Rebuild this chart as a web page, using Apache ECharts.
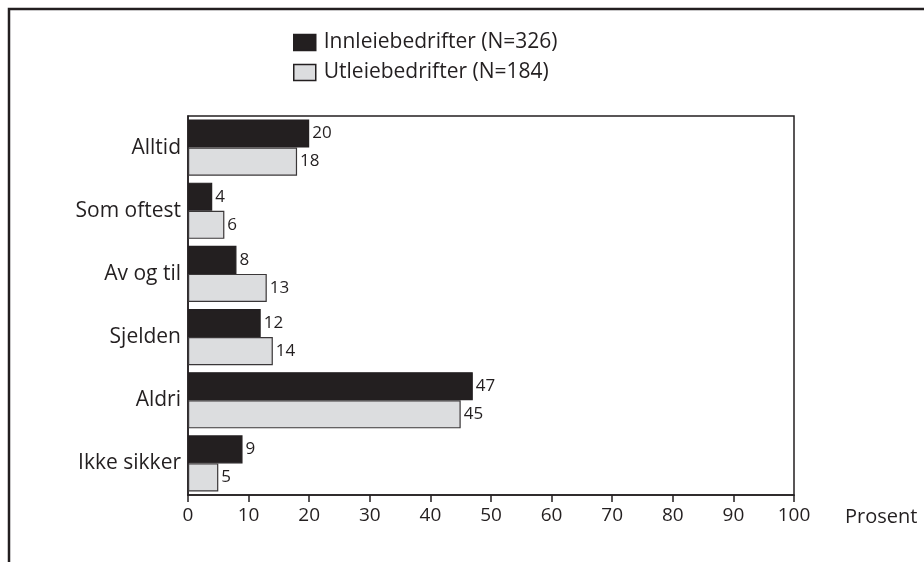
<!DOCTYPE html>
<html>
<head>
<meta charset="utf-8">
<style>
  html, body { margin: 0; padding: 0; background: #fff; }
  #chart { width: 924px; height: 562px; }
</style>
<script src="https://cdn.jsdelivr.net/npm/echarts@6/dist/echarts.min.js"></script>
</head>
<body>
<div id="chart"></div>
<script>
// Response categories, top to bottom
const categories = ['Alltid', 'Som oftest', 'Av og til', 'Sjelden', 'Aldri', 'Ikke sikker'];
// Percent values per group
const innleie = [20, 4, 8, 12, 47, 9];
const utleie = [18, 6, 13, 14, 45, 5];
const seriesNames = ['Innleiebedrifter (N=326)', 'Utleiebedrifter (N=184)'];
const xTicks = [0, 10, 20, 30, 40, 50, 60, 70, 80, 90, 100];

const FONT = '"Open Sans", "Noto Sans", sans-serif';
const INK = '#231f20';
const GREY = '#dcdddf';

const chart = echarts.init(document.getElementById('chart'), null, { renderer: 'canvas' });

const labelStyle = {
  show: true,
  position: 'right',
  distance: 3,
  color: INK,
  fontFamily: FONT,
  fontSize: 17
};

chart.setOption({
  animation: false,
  backgroundColor: '#ffffff',
  textStyle: { fontFamily: FONT },
  graphic: [{
    type: 'polyline',
    shape: { points: [[9, 562], [9, 9], [924, 9]] },
    style: { stroke: INK, lineWidth: 2.5, fill: null },
    silent: true
  }],
  legend: {
    orient: 'vertical',
    left: 293,
    top: 32,
    padding: 0,
    itemWidth: 22,
    itemHeight: 16,
    itemGap: 9,
    icon: 'rect',
    textStyle: { fontFamily: FONT, fontSize: 21, color: INK, padding: [0, 0, 0, 3] },
    data: [
      { name: seriesNames[0], itemStyle: { color: INK, borderColor: INK, borderWidth: 1.5 } },
      { name: seriesNames[1], itemStyle: { color: GREY, borderColor: INK, borderWidth: 1.5 } }
    ]
  },
  grid: {
    left: 188,
    right: 130,
    top: 116,
    bottom: 67,
    show: true,
    borderColor: INK,
    borderWidth: 1.5,
    containLabel: false
  },
  xAxis: {
    type: 'value',
    min: xTicks[0],
    max: xTicks[xTicks.length - 1],
    interval: 10,
    name: 'Prosent',
    nameLocation: 'end',
    nameGap: 51,
    nameTextStyle: { fontFamily: FONT, fontSize: 20, color: INK, verticalAlign: 'top', padding: [12, 0, 0, 0] },
    axisLine: { show: true, lineStyle: { color: INK, width: 1.5 } },
    axisTick: { show: true, length: 7, inside: false, lineStyle: { color: INK, width: 1.5 } },
    axisLabel: { color: INK, fontFamily: FONT, fontSize: 19, margin: 11 },
    splitLine: { show: false }
  },
  yAxis: {
    type: 'category',
    inverse: true,
    data: categories,
    axisLine: { show: true, lineStyle: { color: INK, width: 1.5 } },
    axisTick: { show: false },
    axisLabel: { color: INK, fontFamily: FONT, fontSize: 21, margin: 7 }
  },
  series: [
    {
      name: seriesNames[0],
      type: 'bar',
      data: innleie,
      barGap: '0%',
      barCategoryGap: '11%',
      itemStyle: { color: INK, borderColor: INK, borderWidth: 1.2 },
      label: labelStyle
    },
    {
      name: seriesNames[1],
      type: 'bar',
      data: utleie,
      itemStyle: { color: GREY, borderColor: '#3a3738', borderWidth: 1.2 },
      label: labelStyle
    }
  ]
});
</script>
</body>
</html>
